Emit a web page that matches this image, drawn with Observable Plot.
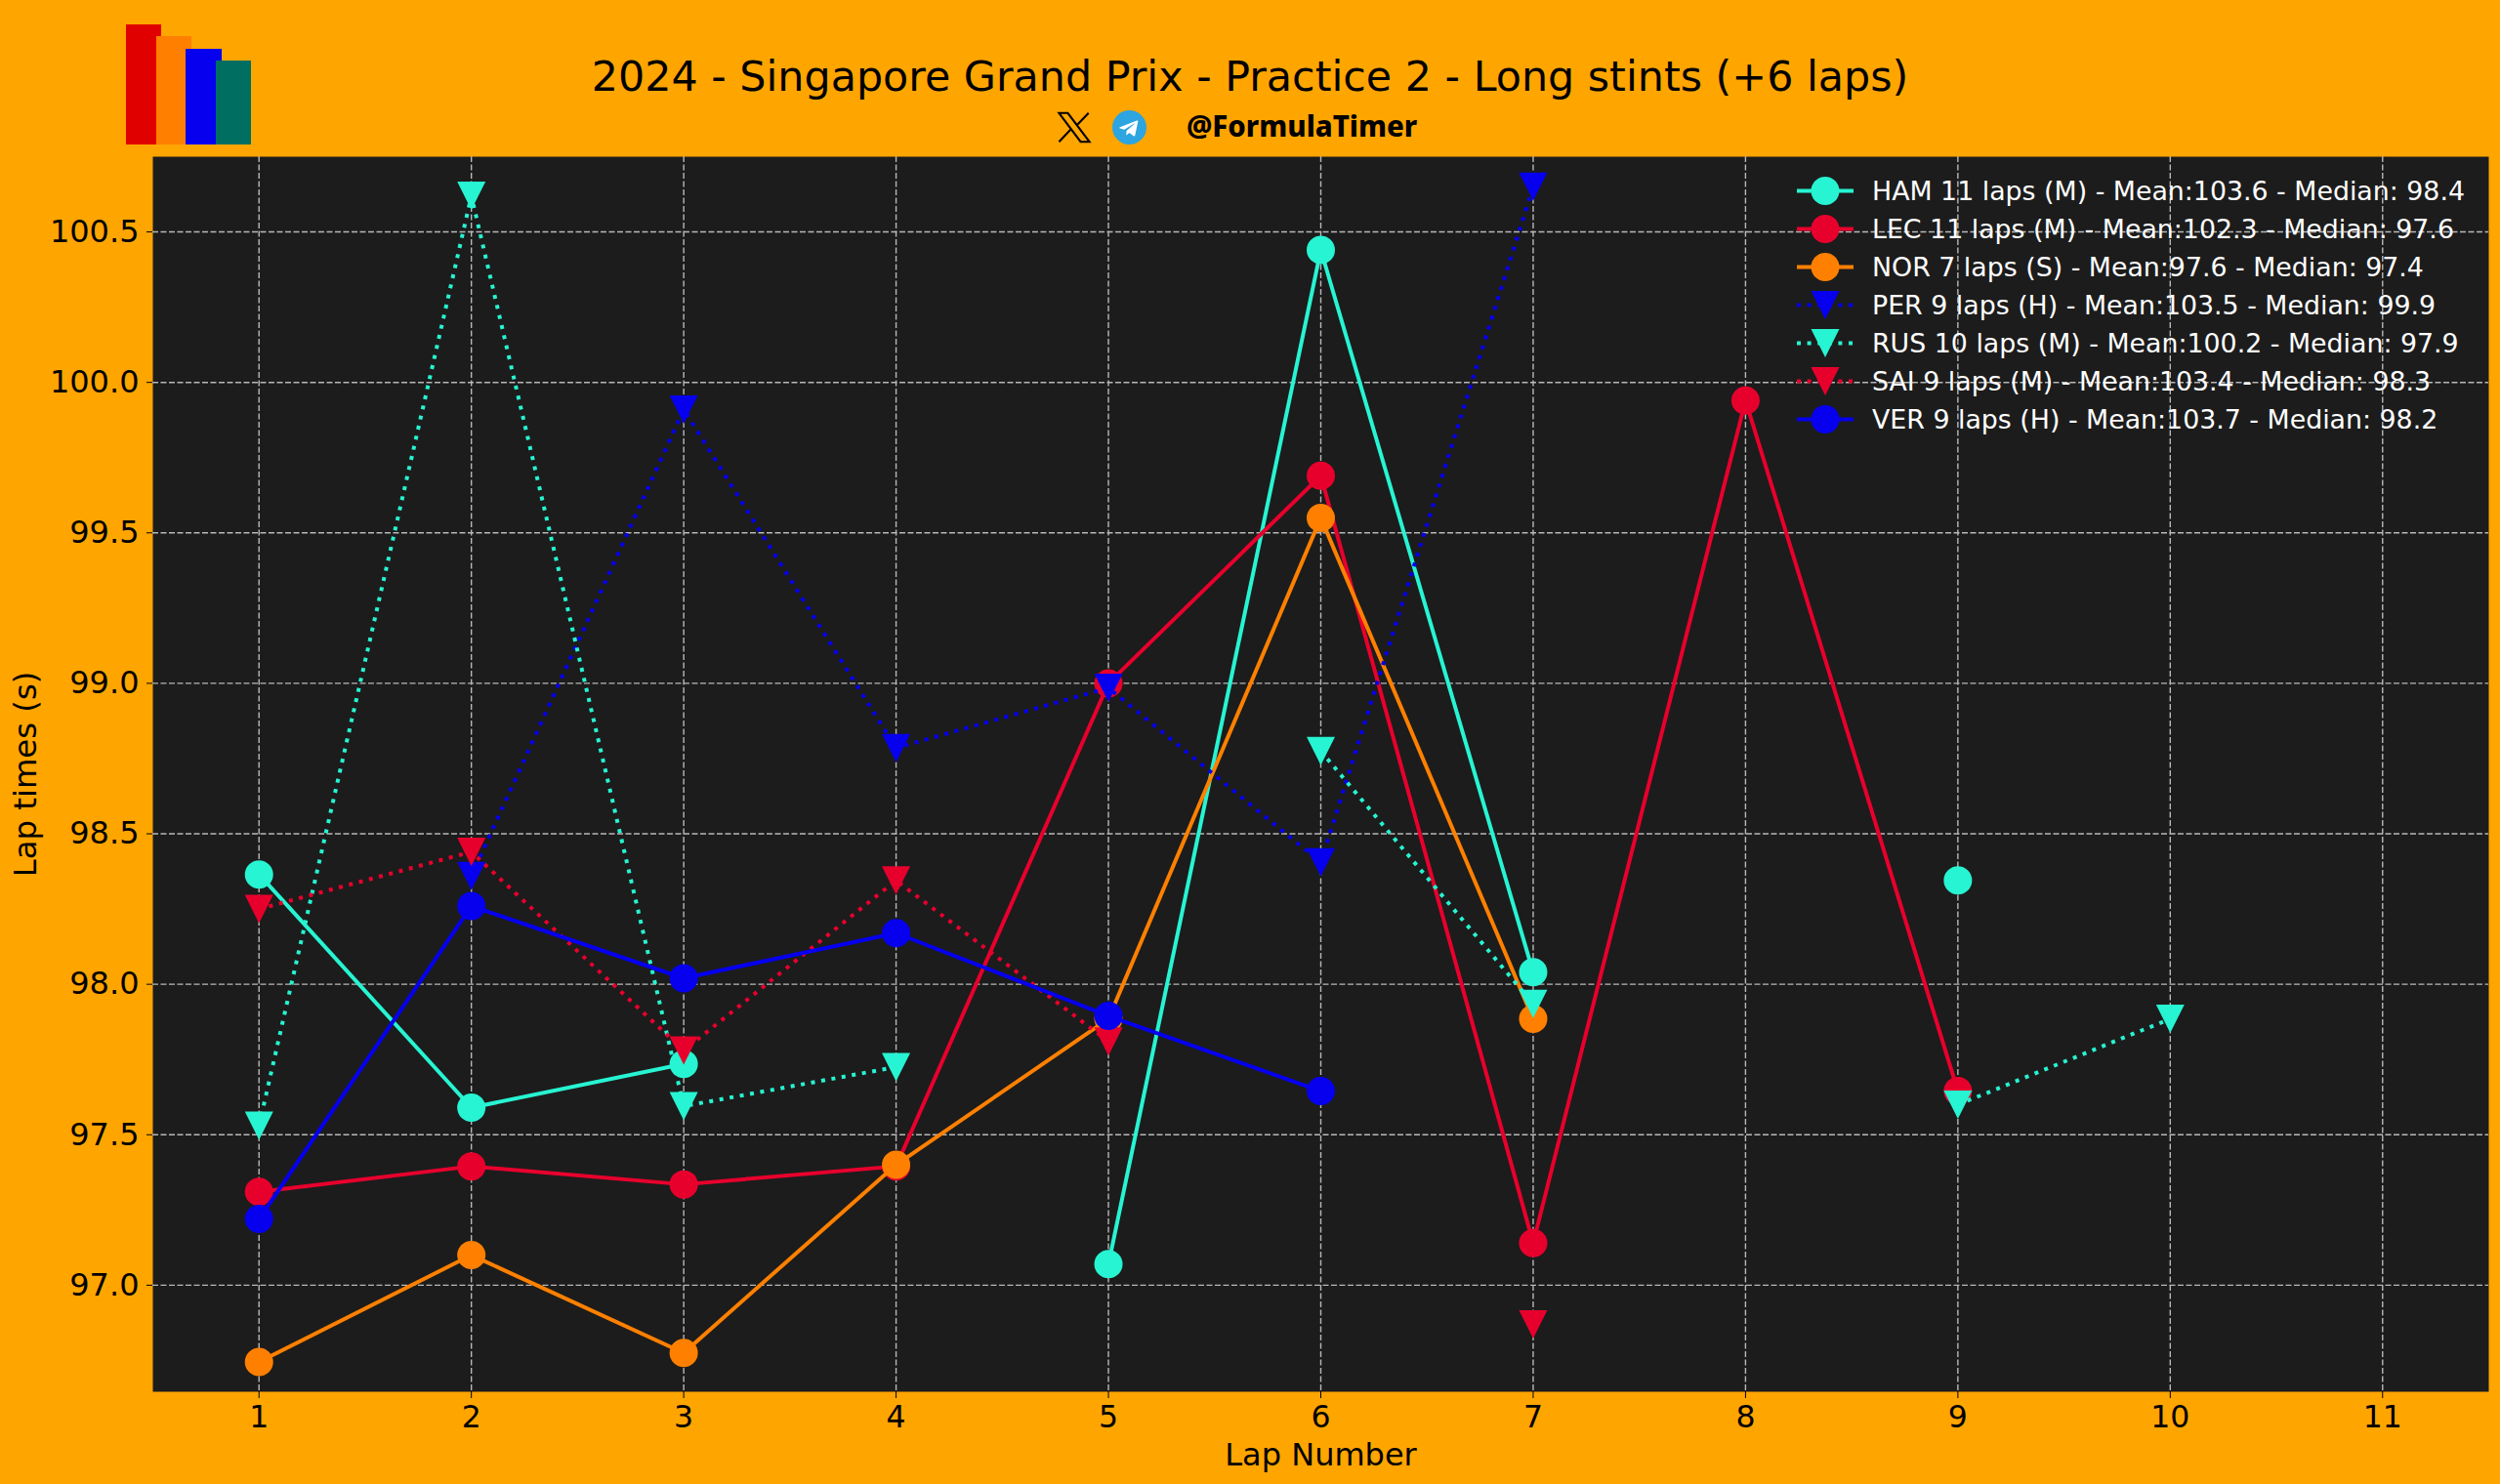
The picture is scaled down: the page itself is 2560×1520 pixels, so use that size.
<!DOCTYPE html>
<html>
<head>
<meta charset="utf-8">
<script src="https://cdn.jsdelivr.net/npm/d3@7"></script>
<script src="https://cdn.jsdelivr.net/npm/@observablehq/plot@0.6"></script>
<style>
  html, body { margin: 0; padding: 0; background: #FFA500; width: 2560px; height: 1520px; overflow: hidden; font-family: "DejaVu Sans", sans-serif; }
  #page { position: relative; width: 2560px; height: 1520px; }
  #header { position: relative; width: 2560px; height: 160px; }
  #title { position: absolute; left: 0; width: 2560px; top: 51px; text-align: center; font-size: 42.8px; line-height: 54px; color: #000; }
  .bar { position: absolute; }
  #handle { position: absolute; left: 1215px; top: 106px; font-family: "Noto Sans", sans-serif; font-weight: 800; font-size: 29.4px; line-height: 46px; color: #000; }
  #xicon, #tgicon { position: absolute; }
  #chart { position: absolute; left: 0; top: 160px; }
  #chart svg { display: block; background: transparent; }
  #legend { position: absolute; left: 1840px; top: 176px; }
  .row { position: relative; height: 39px; width: 700px; }
  .row svg { position: absolute; left: 0; top: 0; overflow: visible; }
  .row span { position: absolute; left: 77px; top: 0; line-height: 39px; font-size: 26.8px; color: #fff; white-space: nowrap; }
</style>
</head>
<body>
<div id="page">
  <div id="header">
    <div class="bar" style="left:129px;top:25px;width:36px;height:123px;background:#E10000"></div>
    <div class="bar" style="left:160px;top:37px;width:36px;height:111px;background:#FF8000"></div>
    <div class="bar" style="left:190px;top:50px;width:37px;height:98px;background:#0600EF"></div>
    <div class="bar" style="left:221px;top:62px;width:36px;height:86px;background:#006F62"></div>
    <div id="title">2024 - Singapore Grand Prix - Practice 2 - Long stints (+6 laps)</div>
    <svg id="xicon" style="left:1082px;top:112px" width="36" height="37" viewBox="1 2 22 20"><path fill="none" stroke="#000" stroke-width="1.3" d="M2.5 3 H8 L21.5 21 H16 Z M2.5 21 L10.3 12.8 M21 3 L13.5 10.8"/></svg>
    <svg id="tgicon" style="left:1139px;top:113px" width="35" height="35" viewBox="0 0 24 24"><circle cx="12" cy="12" r="12" fill="#2CA5E0"/><path fill="#fff" d="M5.4 11.8 17.2 7.2c.6-.2 1 .1.8.9l-2 9.4c-.1.7-.6.8-1.100.5l-3-2.200-1.500 1.400c-.2.2-.3.3-.6.3l.2-3.100 5.600-5c.2-.2 0-.3-.3-.1l-6.900 4.300-3-.9c-.6-.2-.6-.6.1-.9z"/></svg>
    <div id="handle">@FormulaTimer</div>
  </div>
  <div id="chart"></div>
  <div id="legend"></div>
</div>
<script>
const laps = [1, 2, 3, 4, 5, 6, 7, 8, 9, 10, 11];
const yTicks = [97, 97.5, 98, 98.5, 99, 99.5, 100, 100.5];

const drivers = ["HAM", "LEC", "NOR", "PER", "RUS", "SAI", "VER"];
const legendLabels = [
  "HAM 11 laps (M) - Mean:103.6 - Median: 98.4",
  "LEC 11 laps (M) - Mean:102.3 - Median: 97.6",
  "NOR 7 laps (S) - Mean:97.6 - Median: 97.4",
  "PER 9 laps (H) - Mean:103.5 - Median: 99.9",
  "RUS 10 laps (M) - Mean:100.2 - Median: 97.9",
  "SAI 9 laps (M) - Mean:103.4 - Median: 98.3",
  "VER 9 laps (H) - Mean:103.7 - Median: 98.2"
];

const HAM = [98.365, 97.59, 97.735, null, 97.07, 100.44, 98.04, null, 98.345, null, null];
const LEC = [97.31, 97.395, 97.335, 97.395, 99.0, 99.69, 97.14, 99.94, 97.645, null, null];
const NOR = [96.745, 97.10, 96.775, 97.40, 97.885, 99.55, 97.885, null, null, null, null];
const PER = [null, 98.36, 99.91, 98.785, 98.985, 98.405, 100.65, null, null, null, null];
const RUS = [97.53, 100.62, 97.595, 97.725, null, 98.775, 97.935, null, 97.60, 97.885, null];
const SAI = [98.25, 98.44, 97.78, 98.345, 97.81, null, 96.87, null, null, null, null];
const VER = [97.22, 98.26, 98.02, 98.17, 97.895, 97.645, null, null, null, null, null];

const series = { HAM, LEC, NOR, PER, RUS, SAI, VER };
const colors = { HAM: "#27F4D2", LEC: "#E8002D", NOR: "#FF8000", PER: "#0600EF", RUS: "#27F4D2", SAI: "#E8002D", VER: "#0600EF" };
const dotted = { HAM: false, LEC: false, NOR: false, PER: true, RUS: true, SAI: true, VER: false };

const BG = "#1C1C1C";
const LW = 4;
const DOTS = "4,6.6";
const GRID = { stroke: "#b8b8b8", strokeOpacity: 1, strokeWidth: 1.4, strokeDasharray: "6,2.5" };

// matplotlib's 'v' marker
const triangleDown = {
  draw(context, size) {
    const r = Math.sqrt(size / Math.PI);
    context.moveTo(-r, -r);
    context.lineTo(r, -r);
    context.lineTo(0, r);
    context.closePath();
  }
};

const tableFor = (name) => laps.map((lap, i) => ({ lap, time: series[name][i] }));

const driverMarks = drivers.flatMap((name) => {
  const data = tableFor(name);
  return [
    Plot.line(data, { x: "lap", y: "time", stroke: colors[name], strokeWidth: LW, strokeDasharray: dotted[name] ? DOTS : null, strokeLinecap: "butt", curve: "linear" }),
    Plot.dot(data, { x: "lap", y: "time", fill: colors[name], stroke: "none", r: 14.5, symbol: dotted[name] ? triangleDown : "circle" })
  ];
});

const chart = Plot.plot({
  width: 2560,
  height: 1360,
  marginLeft: 156,
  marginRight: 12,
  marginTop: 0,
  marginBottom: 95,
  style: { background: "transparent", fontFamily: "DejaVu Sans" },
  x: { type: "linear", domain: [0.5, 11.5] },
  y: { type: "linear", domain: [96.646, 100.75] },
  marks: [
    Plot.frame({ fill: BG, stroke: "none" }),
    Plot.gridX(laps, GRID),
    Plot.gridY(yTicks, GRID),
    Plot.axisX({ ticks: laps, tickFormat: (d) => String(d), tickSize: 7, tickPadding: 7, fontSize: 31.5, color: "#000", label: null }),
    Plot.axisX({ ticks: [], fontSize: 32, color: "#000", label: "Lap Number", labelAnchor: "center", labelArrow: "none", labelOffset: 75 }),
    Plot.axisY({ ticks: yTicks, tickFormat: (d) => d.toFixed(1), tickSize: 6, tickPadding: 8, fontSize: 32, color: "#000", label: null }),
    Plot.axisY({ ticks: [], fontSize: 32.3, color: "#000", label: "Lap times (s)", labelAnchor: "center", labelArrow: "none", labelOffset: 142 }),
    ...driverMarks
  ]
});
document.getElementById("chart").appendChild(chart);

// Legend overlay
const legend = d3.select("#legend");
drivers.forEach((name, i) => {
  const row = legend.append("div").attr("class", "row");
  const svg = row.append("svg").attr("width", 58).attr("height", 39);
  svg.append("line").attr("x1", 0).attr("x2", 58).attr("y1", 19.5).attr("y2", 19.5)
    .attr("stroke", colors[name]).attr("stroke-width", LW)
    .attr("stroke-dasharray", dotted[name] ? DOTS : null);
  if (dotted[name]) {
    svg.append("path").attr("d", "M14.5,5 L43.5,5 L29,34 Z").attr("fill", colors[name]);
  } else {
    svg.append("circle").attr("cx", 29).attr("cy", 19.5).attr("r", 14.5).attr("fill", colors[name]);
  }
  row.append("span").text(legendLabels[i]);
});
</script>
</body>
</html>
